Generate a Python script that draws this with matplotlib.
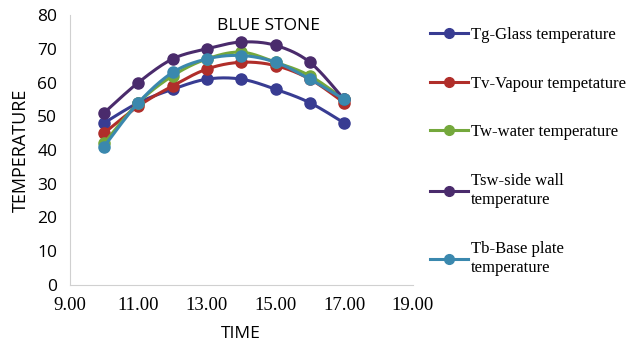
import numpy as np
import matplotlib.pyplot as plt

time = [10, 11, 12, 13, 14, 15, 16, 17]
tg = [48, 54, 58, 61, 61, 58, 54, 48]
tv = [45, 53, 59, 64, 66, 65, 61, 54]
tw = [42, 54, 62, 67, 69, 66, 62, 55]
tsw = [51, 60, 67, 70, 72, 71, 66, 55]
tb = [41, 54, 63, 67, 68, 66, 61, 55]

labels = ["Tg-Glass temperature", "Tv-Vapour tempetature", "Tw-water temperature",
          "Tsw-side wall\ntemperature", "Tb-Base plate\ntemperature"]
colors = ["#383C92", "#B02E2A", "#74A83C", "#4A2B6C", "#3A88AE"]
xticks = [9, 11, 13, 15, 17, 19]


def smooth(x, y, n=20):
    # catmull-rom style smoothing like excel "smoothed line"
    x = np.asarray(x, float)
    y = np.asarray(y, float)
    px = np.r_[x[0], x, x[-1]]
    py = np.r_[y[0], y, y[-1]]
    xs, ys = [], []
    t = np.linspace(0, 1, n)
    for i in range(1, len(px) - 2):
        p0, p1, p2, p3 = [np.array([px[j], py[j]]) for j in range(i - 1, i + 3)]
        c1 = p1 + (p2 - p0) / 6
        c2 = p2 - (p3 - p1) / 6
        b = ((1 - t) ** 3)[:, None] * p1 + (3 * (1 - t) ** 2 * t)[:, None] * c1 \
            + (3 * (1 - t) * t ** 2)[:, None] * c2 + (t ** 3)[:, None] * p2
        xs.append(b[:, 0])
        ys.append(b[:, 1])
    return np.concatenate(xs), np.concatenate(ys)


fig = plt.figure(figsize=(6.4, 3.5), dpi=100)
ax = fig.add_axes([0.109, 0.186, 0.536, 0.771])

series = [tg, tv, tw, tsw, tb]
for vals, lab, c in zip(series, labels, colors):
    sx, sy = smooth(time, vals)
    ax.plot(sx, sy, color=c, lw=2.2)
    ax.plot(time, vals, "o", color=c, ms=8)
    ax.plot([], [], "-o", color=c, lw=2.2, ms=7, label=lab)

ax.set_xlim(9, 19)
ax.set_ylim(0, 80)
ax.set_xticks(xticks)
ax.set_xticklabels([f"{v:.2f}" for v in xticks], family="Liberation Serif", fontsize=13.5)
ax.set_yticks(range(0, 81, 10))
ax.tick_params(axis="y", labelsize=12.5, length=0, pad=9)
ax.tick_params(axis="x", length=0, pad=9)
for lbl in ax.get_yticklabels():
    lbl.set_family("Open Sans")
for s in ["top", "right"]:
    ax.spines[s].set_visible(False)
for s in ["left", "bottom"]:
    ax.spines[s].set_color("#D0D0D0")

ax.set_xlabel("TIME", fontsize=12.5, family="Open Sans", labelpad=8)
ax.set_ylabel("TEMPERATURE", fontsize=13, family="Open Sans", labelpad=5)
ax.text(0.58, 0.99, "BLUE STONE", transform=ax.transAxes, ha="center", va="top",
        fontsize=12.5, family="Open Sans")

leg = fig.legend(loc="upper left", bbox_to_anchor=(0.648, 0.965), frameon=False,
                 prop={"family": "Liberation Serif", "size": 12},
                 handlelength=2.3, handletextpad=0.15, labelspacing=1.95)
for t in leg.get_texts():
    t.set_linespacing(1.3)

fig.savefig("out.png", dpi=100)
